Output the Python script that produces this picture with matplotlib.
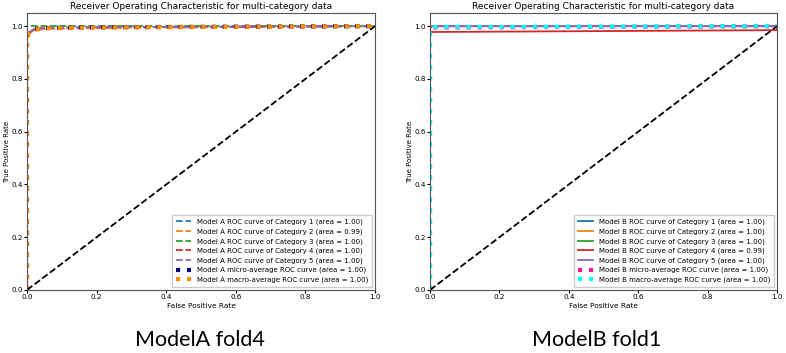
import matplotlib
matplotlib.use("Agg")
import matplotlib.pyplot as plt

# ---- data ----
cat_names = ["Category 1", "Category 2", "Category 3", "Category 4", "Category 5"]

# Model A (fold 4)
a_fpr = [
    [0.0, 0.0, 0.005, 0.02, 0.05, 0.2, 1.0],
    [0.0, 0.0, 0.005, 0.02, 0.06, 0.3, 1.0],
    [0.0, 0.0, 1.0],
    [0.0, 0.0, 0.005, 0.02, 0.05, 0.2, 1.0],
    [0.0, 0.0, 0.005, 0.02, 0.05, 0.2, 1.0],
]
a_tpr = [
    [0.0, 0.96, 0.975, 0.988, 0.993, 0.996, 1.0],
    [0.0, 0.95, 0.97, 0.985, 0.99, 0.994, 1.0],
    [0.0, 1.0, 1.0],
    [0.0, 0.96, 0.975, 0.988, 0.993, 0.996, 1.0],
    [0.0, 0.96, 0.975, 0.988, 0.993, 0.996, 1.0],
]
a_auc = [1.00, 0.99, 1.00, 1.00, 1.00]
a_micro_fpr = [0.0, 0.0, 0.005, 0.02, 0.05, 0.2, 1.0]
a_micro_tpr = [0.0, 0.96, 0.975, 0.988, 0.993, 0.996, 1.0]
a_macro_fpr = [0.0, 0.0, 0.005, 0.02, 0.05, 0.2, 1.0]
a_macro_tpr = [0.0, 0.955, 0.972, 0.986, 0.992, 0.995, 1.0]
a_micro_auc = 1.00
a_macro_auc = 1.00

# Model B (fold 1)
b_fpr = [
    [0.0, 0.0, 0.003, 1.0],
    [0.0, 0.0, 0.003, 1.0],
    [0.0, 0.0, 1.0],
    [0.0, 0.0, 0.999, 1.0],
    [0.0, 0.0, 0.003, 1.0],
]
b_tpr = [
    [0.0, 0.99, 1.0, 1.0],
    [0.0, 0.99, 1.0, 1.0],
    [0.0, 1.0, 1.0],
    [0.0, 0.978, 0.985, 1.0],
    [0.0, 0.99, 1.0, 1.0],
]
b_auc = [1.00, 1.00, 1.00, 0.99, 1.00]
b_micro_fpr = [0.0, 0.0, 0.01, 1.0]
b_micro_tpr = [0.0, 0.99, 0.995, 1.0]
b_macro_fpr = [0.0, 0.0, 0.01, 1.0]
b_macro_tpr = [0.0, 0.99, 0.997, 1.0]
b_micro_auc = 1.00
b_macro_auc = 1.00

captions = ["ModelA fold4", "ModelB fold1"]
title = "Receiver Operating Characteristic for multi-category data"

# ---- figure ----
plt.rcParams["font.family"] = ["DejaVu Sans"]
fig = plt.figure(figsize=(7.86, 3.53), dpi=100)
axA = fig.add_axes([27 / 786, 63 / 353, 348 / 786, 277 / 353])
axB = fig.add_axes([430 / 786, 63 / 353, 347 / 786, 277 / 353])

cat_colors = ["tab:blue", "tab:orange", "tab:green", "tab:red", "tab:purple"]


def style_axes(ax):
    ax.plot([0, 1], [0, 1], "k--", lw=1.3)
    ax.set_xlim(0.0, 1.0)
    ax.set_ylim(0.0, 1.05)
    ax.set_xlabel("False Positive Rate", fontsize=5.3, labelpad=2)
    ax.set_ylabel("True Positive Rate", fontsize=5.0, labelpad=1)
    ax.set_title(title, fontsize=6.5, pad=3)
    ax.tick_params(labelsize=5.2, length=2, pad=1.2)
    for s in ax.spines.values():
        s.set_color("#555555")
        s.set_linewidth(0.8)
    ax.legend(loc="lower right", fontsize=5, frameon=True, handlelength=2.2,
              borderpad=0.5, labelspacing=0.45, fancybox=False, framealpha=1,
              edgecolor="#cccccc")


# Model A
for i in range(5):
    axA.plot(a_fpr[i], a_tpr[i], color=cat_colors[i], ls="--", lw=1.3,
             label=f"Model A ROC curve of {cat_names[i]} (area = {a_auc[i]:.2f})")
axA.plot(a_micro_fpr, a_micro_tpr, color="navy", ls=":", lw=3,
         label=f"Model A micro-average ROC curve (area = {a_micro_auc:.2f})")
axA.plot(a_macro_fpr, a_macro_tpr, color="darkorange", ls=":", lw=3,
         label=f"Model A macro-average ROC curve (area = {a_macro_auc:.2f})")
style_axes(axA)

# Model B
for i in range(5):
    axB.plot(b_fpr[i], b_tpr[i], color=cat_colors[i], ls="-", lw=1.3,
             label=f"Model B ROC curve of {cat_names[i]} (area = {b_auc[i]:.2f})")
axB.plot(b_micro_fpr, b_micro_tpr, color="deeppink", ls=":", lw=3,
         label=f"Model B micro-average ROC curve (area = {b_micro_auc:.2f})")
axB.plot(b_macro_fpr, b_macro_tpr, color="aqua", ls=":", lw=3,
         label=f"Model B macro-average ROC curve (area = {b_macro_auc:.2f})")
style_axes(axB)

fig.text(200 / 786, 1 - 340 / 353, captions[0], fontsize=15.5, ha="center",
         va="center", family=["Lato", "DejaVu Sans"])
fig.text(597 / 786, 1 - 340 / 353, captions[1], fontsize=15.5, ha="center",
         va="center", family=["Lato", "DejaVu Sans"])

fig.savefig("out.png", dpi=100)
